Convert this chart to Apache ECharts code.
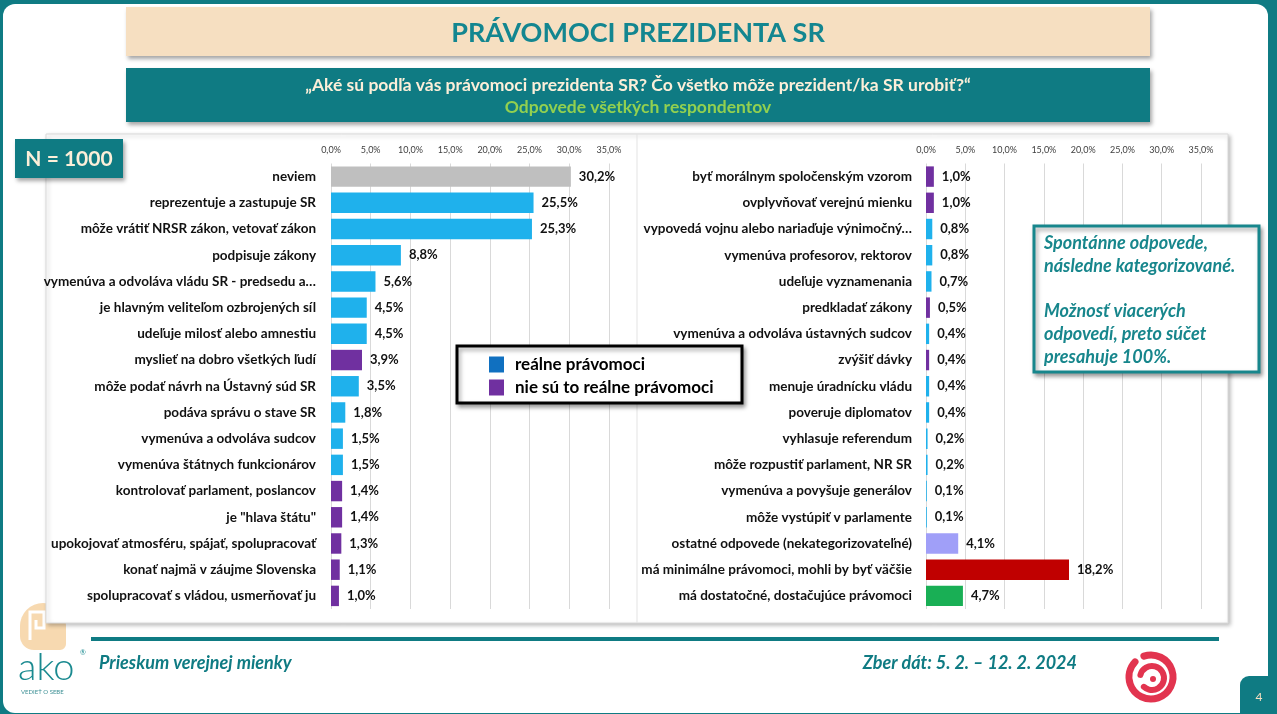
<!DOCTYPE html>
<html><head><meta charset="utf-8">
<script src="https://cdn.jsdelivr.net/npm/echarts@6/dist/echarts.min.js"></script>
<style>html,body{margin:0;padding:0;background:#0F7B83;overflow:hidden}#c{width:1277px;height:714px}</style>
</head><body><div id="c"></div>
<script>
// ---- data ----
const leftCategories = ["neviem", "reprezentuje a zastupuje SR", "môže vrátiť NRSR zákon, vetovať zákon", "podpisuje zákony", "vymenúva a odvoláva vládu SR - predsedu a…", "je hlavným veliteľom ozbrojených síl", "udeľuje milosť alebo amnestiu", "myslieť na dobro všetkých ľudí", "môže podať návrh na Ústavný súd SR", "podáva správu o stave SR", "vymenúva a odvoláva sudcov", "vymenúva štátnych funkcionárov", "kontrolovať parlament, poslancov", "je \"hlava štátu\"", "upokojovať atmosféru, spájať, spolupracovať", "konať najmä v záujme Slovenska", "spolupracovať s vládou, usmerňovať ju"];
const leftValues = [30.2, 25.5, 25.3, 8.8, 5.6, 4.5, 4.5, 3.9, 3.5, 1.8, 1.5, 1.5, 1.4, 1.4, 1.3, 1.1, 1.0];
const leftKinds = ["dontknow", "real", "real", "real", "real", "real", "real", "notreal", "real", "real", "real", "real", "notreal", "notreal", "notreal", "notreal", "notreal"];

const rightCategories = ["byť morálnym spoločenským vzorom", "ovplyvňovať verejnú mienku", "vypovedá vojnu alebo nariaďuje výnimočný…", "vymenúva profesorov, rektorov", "udeľuje vyznamenania", "predkladať zákony", "vymenúva a odvoláva ústavných sudcov", "zvýšiť dávky", "menuje úradnícku vládu", "poveruje diplomatov", "vyhlasuje referendum", "môže rozpustiť parlament, NR SR", "vymenúva a povyšuje generálov", "môže vystúpiť v parlamente", "ostatné odpovede (nekategorizovateľné)", "má minimálne právomoci, mohli by byť väčšie", "má dostatočné, dostačujúce právomoci"];
const rightValues = [1.0, 1.0, 0.8, 0.8, 0.7, 0.5, 0.4, 0.4, 0.4, 0.4, 0.2, 0.2, 0.1, 0.1, 4.1, 18.2, 4.7];
const rightKinds = ["notreal", "notreal", "real", "real", "real", "notreal", "real", "notreal", "real", "real", "real", "real", "real", "real", "other", "minimal", "enough"];

const axisMin = 0, axisMax = 35, axisStep = 5;
const legendNames = ["reálne právomoci", "nie sú to reálne právomoci"];

const titleText = "PRÁVOMOCI PREZIDENTA SR";
const questionText = "„Aké sú podľa vás právomoci prezidenta SR? Čo všetko môže prezident/ka SR urobiť?“";
const subText = "Odpovede všetkých respondentov";
const sampleText = "N = 1000";
const noteLines = ["Spontánne odpovede,", "následne kategorizované.", "", "Možnosť viacerých", "odpovedí, preto súčet", "presahuje 100%."];
const footerLeft = "Prieskum verejnej mienky";
const footerRight = "Zber dát: 5. 2. – 12. 2. 2024";
const pageNo = "4";

// ---- styles ----
const kindColors = {real: "#1FB1EC", notreal: "#7030A0", dontknow: "#BFBFBF", other: "#A09FF8", minimal: "#C00000", enough: "#19AF55"};
const legendColors = ["#1070C0", "#7030A0"];
const teal = "#0F7B83";
const FONT = "Lato, 'Open Sans', sans-serif";
const fmt = v => v.toFixed(1).replace('.', ',') + '%';

function makeData(vals, kinds) {
  return vals.map((v, i) => ({value: v, itemStyle: {color: kindColors[kinds[i]]}}));
}

function xAxisFor(gi) {
  return {
    gridIndex: gi, type: 'value', position: 'top', min: axisMin, max: axisMax, interval: axisStep, z: 1,
    axisLine: {show: false}, axisTick: {show: false},
    axisLabel: {formatter: v => fmt(v), fontSize: 9, color: '#404040', fontFamily: FONT, margin: 9},
    splitLine: {lineStyle: {color: '#D9D9D9', width: 1}}
  };
}
function yAxisFor(gi, cats, margin) {
  return {
    gridIndex: gi, type: 'category', data: cats, inverse: true, z: 1,
    axisLine: {show: false}, axisTick: {show: false},
    axisLabel: {interval: 0, fontSize: 13.5, fontWeight: 'bold', color: '#111', fontFamily: FONT, margin: margin}
  };
}
function barSeries(gi, vals, kinds) {
  return {
    type: 'bar', xAxisIndex: gi, yAxisIndex: gi, data: makeData(vals, kinds), barCategoryGap: '22%', z: 2,
    label: {show: true, position: 'right', distance: 8, formatter: p => fmt(p.value), fontSize: 13, fontWeight: 'bold', color: '#111', fontFamily: FONT}
  };
}

const shadow = {shadowBlur: 4, shadowOffsetX: 2, shadowOffsetY: 3, shadowColor: 'rgba(0,0,0,0.35)'};

const graphics = [
  {type: 'rect', z: -5, shape: {x: 3, y: 4, width: 1265, height: 709, r: 12}, style: {fill: '#fff'}},
  {type: 'rect', z: -4, shape: {x: 126, y: 7, width: 1024, height: 49}, style: Object.assign({fill: '#F6DFC1'}, shadow)},
  {type: 'text', z: -3, x: 638, y: 33, style: {text: titleText, fill: '#138690', font: "bold 27px " + FONT, textAlign: 'center', textVerticalAlign: 'middle'}},
  {type: 'rect', z: -4, shape: {x: 126, y: 68, width: 1024, height: 54}, style: Object.assign({fill: teal}, shadow)},
  {type: 'text', z: -3, x: 638, y: 85, style: {text: questionText, fill: '#FCEFD9', font: "bold 17.5px " + FONT, textAlign: 'center', textVerticalAlign: 'middle'}},
  {type: 'text', z: -3, x: 638, y: 107, style: {text: subText, fill: '#92D050', font: "bold 17.5px " + FONT, textAlign: 'center', textVerticalAlign: 'middle'}},
  // logo head (under panel)
  {type: 'rect', z: -4, shape: {x: 20, y: 603, width: 46, height: 47, r: [23, 23, 6, 14]}, style: {fill: '#F7D9B0'}},
  {type: 'polyline', z: -3, shape: {points: [[30, 640], [30, 612], [44, 612], [44, 628], [36, 628], [36, 620]]}, style: {stroke: '#fff', lineWidth: 3, fill: null}},
  // panel
  {type: 'rect', z: -2, shape: {x: 46, y: 134, width: 1182, height: 489}, style: Object.assign({fill: '#fff', stroke: '#DADADA', lineWidth: 1}, {shadowBlur: 4, shadowOffsetX: 2, shadowOffsetY: 2, shadowColor: 'rgba(0,0,0,0.25)'})},
  {type: 'line', z: -1, shape: {x1: 637, y1: 134, x2: 637, y2: 623}, style: {stroke: '#E3E3E3', lineWidth: 1}},
  // N box
  {type: 'rect', z: 5, shape: {x: 15, y: 139, width: 108, height: 39}, style: Object.assign({fill: teal}, shadow)},
  {type: 'text', z: 6, x: 69, y: 159, style: {text: sampleText, fill: '#FCEFD9', font: "bold 21px " + FONT, textAlign: 'center', textVerticalAlign: 'middle'}},
  // legend box
  {type: 'rect', z: 3, shape: {x: 457, y: 346, width: 285, height: 57}, style: Object.assign({fill: '#fff', stroke: '#000', lineWidth: 3}, shadow)},
  // note box
  {type: 'rect', z: 5, shape: {x: 1034, y: 226, width: 225, height: 146}, style: Object.assign({fill: '#fff', stroke: '#17868C', lineWidth: 3}, shadow)},
  // footer
  {type: 'rect', z: -1, shape: {x: 91, y: 637, width: 1128, height: 4}, style: {fill: teal}},
  {type: 'text', z: -1, x: 99, y: 663, style: {text: footerLeft, fill: teal, font: "italic bold 18px " + FONT, textVerticalAlign: 'middle'}},
  {type: 'text', z: -1, x: 1077, y: 663, style: {text: footerRight, fill: teal, font: "italic bold 18px " + FONT, textAlign: 'right', textVerticalAlign: 'middle'}},
  {type: 'text', z: -1, x: 18, y: 668, style: {text: 'ako', fill: '#1A8A90', font: "300 38px " + FONT, textVerticalAlign: 'middle'}},
  {type: 'text', z: -1, x: 80, y: 653, style: {text: '®', fill: '#1A8A90', font: "7px " + FONT, textVerticalAlign: 'middle'}},
  {type: 'text', z: -1, x: 21, y: 692, style: {text: 'VEDIEŤ O SEBE', fill: '#3B8F94', font: "6px " + FONT, textVerticalAlign: 'middle'}},
  // spiral logo
  {type: 'arc', z: -1, shape: {cx: 1151, cy: 677, r: 22, startAngle: -1.9, endAngle: 3.9, clockwise: true}, style: {stroke: '#E2344F', lineWidth: 7, fill: null, lineCap: 'round'}},
  {type: 'arc', z: -1, shape: {cx: 1152, cy: 678, r: 12, startAngle: 3.4, endAngle: 8.6, clockwise: true}, style: {stroke: '#E2344F', lineWidth: 6, fill: null, lineCap: 'round'}},
  {type: 'circle', z: -1, shape: {cx: 1153, cy: 679, r: 3}, style: {fill: '#E2344F'}},
  // page number
  {type: 'rect', z: -1, shape: {x: 1240, y: 676, width: 37, height: 38, r: [9, 0, 0, 0]}, style: {fill: teal}},
  {type: 'text', z: 0, x: 1259, y: 697, style: {text: pageNo, fill: '#F6DFC1', font: "12px " + FONT, textAlign: 'center', textVerticalAlign: 'middle'}}
];
noteLines.forEach((t, i) => {
  if (t) graphics.push({type: 'text', z: 6, x: 1044, y: 243 + i * 22.8, style: {text: t, fill: '#17868C', font: "italic bold 18px " + FONT, textVerticalAlign: 'middle'}});
});

const chart = echarts.init(document.getElementById('c'), null, {renderer: 'canvas'});
chart.setOption({
  animation: false,
  backgroundColor: teal,
  textStyle: {fontFamily: FONT},
  grid: [
    {left: 331, top: 163.5, width: 278, height: 445.5},
    {left: 926, top: 163.5, width: 275, height: 445.5}
  ],
  xAxis: [xAxisFor(0), xAxisFor(1)],
  yAxis: [yAxisFor(0, leftCategories, 15), yAxisFor(1, rightCategories, 14)],
  legend: {
    selectedMode: false, orient: 'vertical', left: 489, top: 356, padding: 0, itemWidth: 15, itemHeight: 16, itemGap: 6, z: 4,
    icon: 'rect', data: legendNames,
    textStyle: {fontSize: 17, fontWeight: 'bold', color: '#000', fontFamily: FONT, padding: [0, 0, 0, 6]}
  },
  series: [
    barSeries(0, leftValues, leftKinds),
    barSeries(1, rightValues, rightKinds),
    {type: 'scatter', name: legendNames[0], xAxisIndex: 0, yAxisIndex: 0, data: [], itemStyle: {color: legendColors[0], opacity: 1}},
    {type: 'scatter', name: legendNames[1], xAxisIndex: 0, yAxisIndex: 0, data: [], itemStyle: {color: legendColors[1], opacity: 1}}
  ],
  graphic: {elements: graphics}
});
</script>
</body></html>
